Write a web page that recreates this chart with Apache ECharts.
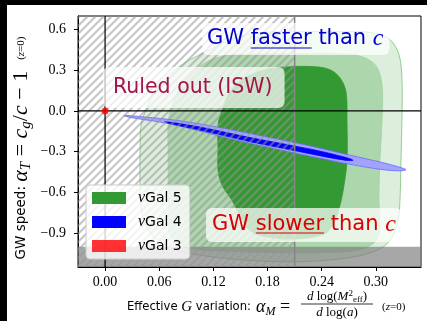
<!DOCTYPE html>
<html><head><meta charset="utf-8">
<script src="https://cdn.jsdelivr.net/npm/echarts@6/dist/echarts.min.js"></script>
<style>html,body{margin:0;padding:0;background:#000;}#c{width:427px;height:321px;}</style>
</head><body><div id="c"></div><script>
// ---------------- data ----------------
const xTicks = [0.00, 0.06, 0.12, 0.18, 0.24, 0.30];
const yTicks = [-0.9, -0.6, -0.3, 0.0, 0.3, 0.6];
const xRange = [-0.03, 0.35];
const yRange = [-1.15, 0.7];
const iswBound = 0.21;     // alpha_M < this : ruled out (ISW), hatched
const slowBand = -1.0;     // grey band below this alpha_T
const refX = [0];
const refY = [0];
const seriesNames = ['νGal 5', 'νGal 4', 'νGal 3'];
const gal3Point = [[0, 0]];
const gal5Outer = [[0.0388,-0.289],[0.0399,-0.104],[0.0465,0.030],[0.0554,0.156],[0.0687,0.252],[0.0886,0.356],[0.1163,0.452],[0.144,0.541],[0.1717,0.578],[0.216,0.585],[0.260,0.585],[0.2957,0.578],[0.3156,0.526],[0.3256,0.415],[0.3289,0.230],[0.3289,-0.067],[0.3278,-0.363],[0.3267,-0.659],[0.3245,-0.807],[0.3178,-0.933],[0.3068,-1.007],[0.2824,-1.067],[0.238,-1.104],[0.1938,-1.111],[0.1495,-1.096],[0.1163,-1.074],[0.0886,-1.044],[0.0664,-0.993],[0.0498,-0.896],[0.041,-0.770],[0.0388,-0.585]];
const gal5Mid = [[0.0698,-0.289],[0.0698,-0.104],[0.0731,0.022],[0.0808,0.141],[0.0941,0.259],[0.1107,0.356],[0.1329,0.407],[0.1717,0.422],[0.216,0.422],[0.2602,0.422],[0.2846,0.400],[0.3001,0.333],[0.3068,0.193],[0.3068,-0.067],[0.3045,-0.363],[0.3034,-0.659],[0.3045,-0.844],[0.3001,-0.956],[0.2824,-1.022],[0.238,-1.044],[0.1938,-1.044],[0.1495,-1.037],[0.1052,-1.022],[0.0831,-0.993],[0.072,-0.919],[0.0698,-0.733],[0.0698,-0.511]];
const gal5Inner = [[0.1251,-0.289],[0.1251,-0.104],[0.1296,0.007],[0.1384,0.141],[0.155,0.244],[0.1772,0.304],[0.2049,0.326],[0.2326,0.326],[0.2492,0.304],[0.2602,0.244],[0.2669,0.141],[0.268,-0.067],[0.268,-0.363],[0.2647,-0.548],[0.2602,-0.696],[0.2536,-0.822],[0.2436,-0.904],[0.216,-0.941],[0.1827,-0.933],[0.1606,-0.881],[0.1495,-0.770],[0.1406,-0.659],[0.1296,-0.548],[0.1251,-0.437]];
const gal4Outer = [[0.021,-0.033],[0.0498,-0.048],[0.072,-0.063],[0.1052,-0.096],[0.1384,-0.137],[0.1805,-0.193],[0.2082,-0.230],[0.2381,-0.274],[0.2713,-0.326],[0.3079,-0.381],[0.3267,-0.415],[0.3333,-0.433],[0.3267,-0.441],[0.3079,-0.433],[0.2713,-0.393],[0.2381,-0.348],[0.2082,-0.307],[0.1805,-0.267],[0.1384,-0.204],[0.1052,-0.148],[0.072,-0.096],[0.0498,-0.070],[0.0277,-0.048]];
const gal4Inner = [[0.0664,-0.078],[0.1052,-0.119],[0.1606,-0.196],[0.2049,-0.252],[0.2381,-0.296],[0.2658,-0.341],[0.2746,-0.363],[0.2658,-0.363],[0.2381,-0.330],[0.2049,-0.285],[0.1606,-0.226],[0.1052,-0.141],[0.072,-0.093]];

// ---------------- styling ----------------
const gal5Layers = [gal5Outer, gal5Mid, gal5Inner];
const gal5Fill = ['#dcefdc', '#acd6ac', '#339933'];
const gal5Stroke = ['#7fc27f', '#a3d1a3', '#339933'];
const gal4Layers = [gal4Outer, gal4Inner];
const gal4Fill = ['#a3a3ff', '#0000ff'];
const gal4Stroke = ['#6a6aff', '#0000ff'];

const SANS = 'DejaVu Sans', SERIF = 'Liberation Serif';
const mctx = document.createElement('canvas').getContext('2d');
function tw(font, s) { mctx.font = font; return mctx.measureText(s).width; }

// hatch tile
const tile = document.createElement('canvas'); tile.width = 8; tile.height = 8;
(function () {
  const t = tile.getContext('2d');
  t.strokeStyle = 'rgba(150,150,150,0.55)'; t.lineWidth = 2; t.lineCap = 'butt';
  t.beginPath();
  t.moveTo(-1, 9); t.lineTo(9, -1);
  t.moveTo(-1, 1); t.lineTo(1, -1);
  t.moveTo(7, 9); t.lineTo(9, 7);
  t.stroke();
})();

function polySeries(name, layers, fills, strokes, color) {
  return {
    type: 'custom', name: name, coordinateSystem: 'cartesian2d', clip: true, silent: true,
    itemStyle: { color: color },
    data: layers.map(l => [l[0][0], l[0][1]]),
    renderItem: (params, api) => {
      const k = params.dataIndex;
      const pts = layers[k].map(p => api.coord(p));
      return { type: 'polygon', shape: { points: pts, smooth: 0.35 },
        style: { fill: fills[k], stroke: strokes[k], lineWidth: 0.8 } };
    }
  };
}

const chart = echarts.init(document.getElementById('c'), null, { renderer: 'canvas' });

const axisLabelStyle = { fontFamily: SERIF, fontSize: 14, color: '#000' };

// annotation boxes
const annFont = 21;
const fasterX = 202, fasterY = 39, fasterPad = [4, 6, 4, 5];
const slowerX = 206, slowerY = 225, slowerPad = [5, 6, 5, 6];
const f21 = annFont + 'px "' + SANS + '"';
const fasterU1 = fasterX + fasterPad[3] + tw(f21, 'GW ');
const fasterU2 = fasterU1 + tw(f21, 'faster');
const slowerU1 = slowerX + slowerPad[3] + tw(f21, 'GW ');
const slowerU2 = slowerU1 + tw(f21, 'slower');
const blueTxt = '#0000cd', redTxt = '#d80000', ruledTxt = '#a3144a';
const boxBg = 'rgba(255,255,255,0.72)';

function annRich(col) {
  return {
    a: { fontFamily: SANS, fontSize: annFont, fill: col, lineHeight: 24 },
    c: { fontFamily: SERIF, fontStyle: 'italic', fontSize: 24, fill: col, lineHeight: 24 }
  };
}

const yRich = {
  s: { fontFamily: SANS, fontSize: 13.5, fill: '#000', lineHeight: 26 },
  m: { fontFamily: SERIF, fontStyle: 'italic', fontSize: 22, fill: '#000', lineHeight: 26 },
  r: { fontFamily: SERIF, fontSize: 22, fill: '#000', lineHeight: 26 },
  sb: { fontFamily: SERIF, fontStyle: 'italic', fontSize: 15, fill: '#000', lineHeight: 15, verticalAlign: 'bottom' },
  p: { fontFamily: SERIF, fontSize: 11, fill: '#000', lineHeight: 26 },
  pi: { fontFamily: SERIF, fontStyle: 'italic', fontSize: 11, fill: '#000', lineHeight: 26 }
};
const xRich = {
  s: { fontFamily: SANS, fontSize: 11.6, fill: '#000', lineHeight: 22 },
  g: { fontFamily: SERIF, fontStyle: 'italic', fontSize: 15, fill: '#000', lineHeight: 22 },
  m: { fontFamily: SERIF, fontStyle: 'italic', fontSize: 18, fill: '#000', lineHeight: 22 },
  r: { fontFamily: SERIF, fontSize: 18, fill: '#000', lineHeight: 22 },
  sb: { fontFamily: SERIF, fontStyle: 'italic', fontSize: 12, fill: '#000', lineHeight: 12, verticalAlign: 'bottom' },
  p: { fontFamily: SERIF, fontSize: 11, fill: '#000', lineHeight: 22 },
  pi: { fontFamily: SERIF, fontStyle: 'italic', fontSize: 11, fill: '#000', lineHeight: 22 }
};
const fracRich = {
  i: { fontFamily: SERIF, fontStyle: 'italic', fontSize: 13, fill: '#000', lineHeight: 15 },
  r: { fontFamily: SERIF, fontSize: 13, fill: '#000', lineHeight: 15 },
  up: { fontFamily: SERIF, fontSize: 9, fill: '#000', lineHeight: 9, verticalAlign: 'top' },
  dn: { fontFamily: SERIF, fontSize: 9, fill: '#000', lineHeight: 9, verticalAlign: 'bottom' }
};

const option = {
  animation: false,
  backgroundColor: '#000',
  grid: { left: 78, top: 16, right: 6, bottom: 54, containLabel: false, outerBoundsMode: 'none',
    show: true, borderColor: '#000', borderWidth: 1, backgroundColor: 'transparent' },
  xAxis: {
    type: 'value', min: xRange[0], max: xRange[1],
    axisLine: { show: true, onZero: false, lineStyle: { color: '#000', width: 1 } },
    axisTick: { show: true, length: 4, lineStyle: { color: '#000' }, customValues: xTicks },
    axisLabel: { show: true, margin: 8, customValues: xTicks, formatter: v => v.toFixed(2), ...axisLabelStyle },
    splitLine: { show: false }
  },
  yAxis: {
    type: 'value', min: yRange[0], max: yRange[1],
    axisLine: { show: true, onZero: false, lineStyle: { color: '#000', width: 1 } },
    axisTick: { show: true, length: 4, lineStyle: { color: '#000' }, customValues: yTicks },
    axisLabel: { show: true, margin: 12, customValues: yTicks,
      formatter: v => (v < 0 ? '\u2212' : '') + Math.abs(v).toFixed(1), ...axisLabelStyle },
    splitLine: { show: false }
  },
  legend: {
    orient: 'vertical', left: 86, top: 185, selectedMode: false,
    data: seriesNames.map(n => ({ name: n, icon: 'rect' })),
    itemWidth: 34, itemHeight: 12, itemGap: 8, padding: [5, 8, 5, 6],
    backgroundColor: 'rgba(255,255,255,0.8)', borderColor: '#cccccc', borderWidth: 1, borderRadius: 4,
    formatter: n => '{i|' + n.slice(0, 1) + '}{t|' + n.slice(1) + '}',
    textStyle: { color: '#000', fontFamily: SANS, fontSize: 14, lineHeight: 16,
      rich: { i: { fontFamily: SERIF, fontStyle: 'italic', fontSize: 16, padding: [0, 0, 0, 7], color: '#000' },
              t: { fontFamily: SANS, fontSize: 14, color: '#000' } } }
  },
  series: [
    polySeries(seriesNames[0], gal5Layers, gal5Fill, gal5Stroke, '#339933'),
    polySeries(seriesNames[1], gal4Layers, gal4Fill, gal4Stroke, '#0000ff'),
    { // grey band
      type: 'custom', name: 'band', coordinateSystem: 'cartesian2d', clip: true, silent: true,
      data: [[xRange[0], slowBand]],
      renderItem: (params, api) => {
        const a = api.coord([xRange[0], slowBand]), b = api.coord([xRange[1], yRange[0]]);
        return { type: 'rect', shape: { x: a[0], y: a[1], width: b[0] - a[0], height: b[1] - a[1] },
          style: { fill: 'rgba(125,125,125,0.68)' } };
      }
    },
    { // hatched ruled-out region + its boundary
      type: 'custom', name: 'isw', coordinateSystem: 'cartesian2d', clip: true, silent: true,
      data: [[iswBound, 0]],
      renderItem: (params, api) => {
        const a = api.coord([xRange[0], yRange[1]]), b = api.coord([iswBound, yRange[0]]);
        return { type: 'group', children: [
          { type: 'rect', shape: { x: a[0], y: a[1], width: b[0] - a[0], height: b[1] - a[1] },
            style: { fill: { type: 'pattern', image: tile, repeat: 'repeat' } } },
          { type: 'line', shape: { x1: b[0], y1: a[1], x2: b[0], y2: b[1] },
            style: { stroke: '#858585', lineWidth: 1.5 } }
        ] };
      }
    },
    { // zero reference lines
      type: 'custom', name: 'ref', coordinateSystem: 'cartesian2d', clip: true, silent: true,
      data: refX.map(v => [v, 0, 0]).concat(refY.map(v => [0, v, 1])),
      renderItem: (params, api) => {
        const kind = api.value(2);
        let p, q;
        if (kind === 0) { p = api.coord([api.value(0), yRange[0]]); q = api.coord([api.value(0), yRange[1]]); }
        else { p = api.coord([xRange[0], api.value(1)]); q = api.coord([xRange[1], api.value(1)]); }
        return { type: 'line', shape: { x1: p[0], y1: p[1], x2: q[0], y2: q[1] }, style: { stroke: '#000', lineWidth: 1.2 } };
      }
    },
    {
      type: 'scatter', name: seriesNames[2], data: gal3Point, symbol: 'circle', symbolSize: 7,
      itemStyle: { color: '#ff0000' }, z: 3, silent: true
    }
  ],
  graphic: [
    { type: 'rect', z: -100, silent: true, shape: { x: 7, y: 5, width: 420, height: 316 }, style: { fill: '#fff' } },
    { type: 'text', z: 100, x: 21, y: 148, rotation: Math.PI / 2, silent: true,
      style: { text: '{s|GW speed: }{m|α}{sb|T}{r| = }{m|c}{sb|g}{r|/}{m|c}{r| − 1}{p|    (}{pi|z}{p|=0)}',
        rich: yRich, align: 'center', verticalAlign: 'middle' } },
    { type: 'text', z: 100, x: 127, y: 307, silent: true,
      style: { text: '{s|Effective }{g|G}{s| variation:}', rich: xRich, align: 'left', verticalAlign: 'middle' } },
    { type: 'text', z: 100, x: 256, y: 307, silent: true,
      style: { text: '{m|α}{sb|M}{r| =}', rich: xRich, align: 'left', verticalAlign: 'middle' } },
    { type: 'text', z: 100, x: 337, y: 297, silent: true,
      style: { text: '{i|d}{r| log(}{i|M}{up|2}{dn|eff}{r|)}', rich: fracRich, align: 'center', verticalAlign: 'middle' } },
    { type: 'line', z: 100, silent: true, shape: { x1: 301, y1: 304, x2: 373, y2: 304 }, style: { stroke: '#000', lineWidth: 0.8 } },
    { type: 'text', z: 100, x: 337, y: 313, silent: true,
      style: { text: '{i|d}{r| log(}{i|a}{r|)}', rich: fracRich, align: 'center', verticalAlign: 'middle' } },
    { type: 'text', z: 100, x: 382, y: 307, silent: true,
      style: { text: '{p|(}{pi|z}{p|=0)}', rich: xRich, align: 'left', verticalAlign: 'middle' } },
    // annotations
    { type: 'text', z: 100, x: fasterX, y: fasterY, silent: true,
      style: { text: '{a|GW faster than }{c|c}', rich: annRich(blueTxt), align: 'left', verticalAlign: 'middle',
        backgroundColor: boxBg, padding: fasterPad, borderRadius: 6 } },
    { type: 'line', z: 101, silent: true, shape: { x1: fasterU1, y1: 48, x2: fasterU2, y2: 48 }, style: { stroke: blueTxt, lineWidth: 1.2 } },
    { type: 'text', z: 100, x: 103, y: 87.5, silent: true,
      style: { text: 'Ruled out (ISW)', fill: ruledTxt, fontFamily: SANS, fontSize: 20.5, lineHeight: 25, align: 'left', verticalAlign: 'middle',
        backgroundColor: boxBg, padding: [8, 12, 8, 10], borderRadius: 6 } },
    { type: 'text', z: 100, x: slowerX, y: slowerY, silent: true,
      style: { text: '{a|GW slower than }{c|c}', rich: annRich(redTxt), align: 'left', verticalAlign: 'middle',
        backgroundColor: boxBg, padding: slowerPad, borderRadius: 6 } },
    { type: 'line', z: 101, silent: true, shape: { x1: slowerU1, y1: 233, x2: slowerU2, y2: 233 }, style: { stroke: redTxt, lineWidth: 1.2 } }
  ]
};
chart.setOption(option);
</script></body></html>
